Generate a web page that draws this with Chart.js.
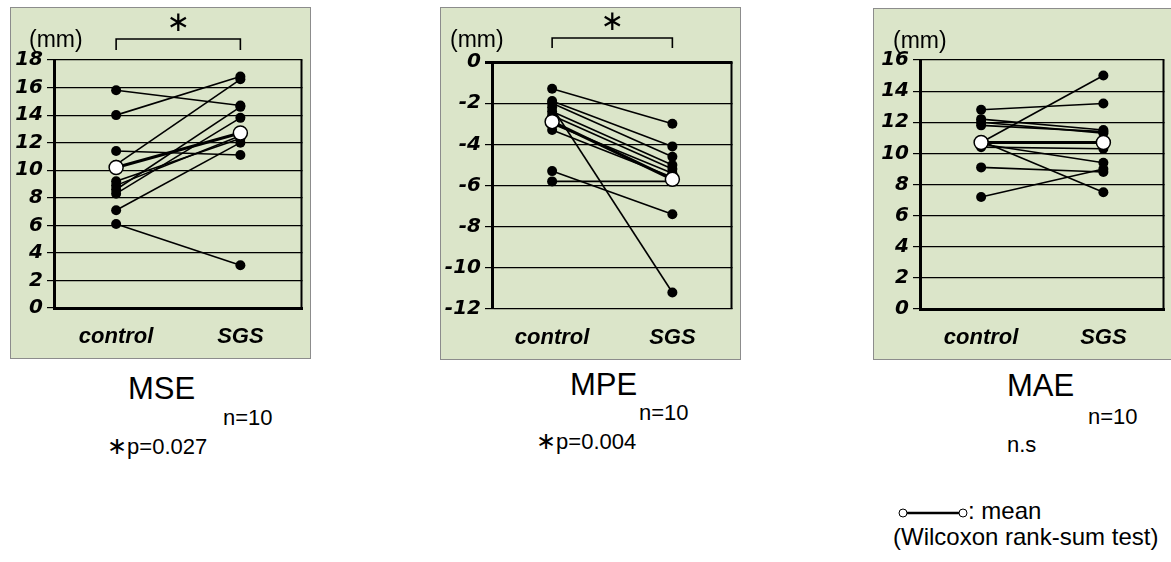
<!DOCTYPE html>
<html>
<head>
<meta charset="UTF-8">
<title>MSE / MPE / MAE</title>
<script src="https://cdn.jsdelivr.net/npm/chart.js"></script>
<style>
  body { margin: 0; background: #fff; width: 1171px; height: 562px; position: relative; overflow: hidden; font-family: "Liberation Sans", Arial, sans-serif; color: #000; }
  canvas { position: absolute; }
  .t { position: absolute; white-space: nowrap; line-height: 1; }
  .star { font-family: "DejaVu Sans"; font-size: 24px; }
</style>
</head>
<body>
<canvas id="mse" width="301" height="352" style="left:10px;top:7px"></canvas>
<canvas id="mpe" width="301" height="353" style="left:440px;top:7px"></canvas>
<canvas id="mae" width="300" height="352" style="left:873px;top:8px"></canvas>

<div class="t" style="left:128px;top:373px;font-size:31px">MSE</div>
<div class="t" style="left:223px;top:407px;font-size:22px">n=10</div>
<div class="t" style="left:107px;top:434px;font-size:22px"><span class="star">∗</span>p=0.027</div>

<div class="t" style="left:570px;top:369px;font-size:31px">MPE</div>
<div class="t" style="left:639px;top:402px;font-size:22px">n=10</div>
<div class="t" style="left:536px;top:429px;font-size:22px"><span class="star">∗</span>p=0.004</div>

<div class="t" style="left:1007px;top:370px;font-size:31px">MAE</div>
<div class="t" style="left:1088px;top:406px;font-size:22px">n=10</div>
<div class="t" style="left:1007px;top:434px;font-size:22px">n.s</div>

<svg style="position:absolute;left:895px;top:503px" width="80" height="20">
  <line x1="12" y1="10" x2="64" y2="10" stroke="#000" stroke-width="2.5"/>
  <circle cx="8" cy="10" r="4" fill="#fff" stroke="#000" stroke-width="1"/>
  <circle cx="68" cy="10" r="4" fill="#fff" stroke="#000" stroke-width="1"/>
</svg>
<div class="t" style="left:968px;top:499px;font-size:24px">: mean</div>
<div class="t" style="left:893px;top:525px;font-size:24px">(Wilcoxon rank-sum test)</div>

<script>
// data (mm)
const groups = ['control', 'SGS'];

const mseControl = [15.8, 14.0, 11.4, 10.4, 9.2, 8.9, 8.6, 8.3, 7.1, 6.1];
const mseSGS     = [14.7, 16.8, 11.1, 16.6, 12.3, 12.5, 14.6, 13.8, 12.0, 3.1];
const mseMean    = [10.2, 12.7];
const mseAxis    = [0, 18];

const mpeControl = [-1.3, -1.9, -2.0, -2.2, -2.4, -2.6, -3.0, -3.3, -5.3, -5.8];
const mpeSGS     = [-3.0, -4.1, -4.6, -11.2, -5.0, -5.2, -5.4, -5.6, -7.4, -5.8];
const mpeMean    = [-2.9, -5.7];
const mpeAxis    = [-12, 0];

const maeControl = [12.8, 12.2, 12.0, 11.8, 10.7, 10.8, 10.6, 10.4, 9.1, 7.2];
const maeSGS     = [13.2, 11.5, 11.3, 11.4, 15.0, 7.5, 9.4, 10.3, 8.8, 9.0];
const maeMean    = [10.7, 10.7];
const maeAxis    = [0, 16];

// background, frame, (mm), bracket and star
const deco = {
  id: 'deco',
  beforeDraw(chart, args, o) {
    const ctx = chart.ctx;
    ctx.save();
    ctx.fillStyle = '#dbe5c9';
    ctx.fillRect(0, 0, chart.width, chart.height);
    ctx.restore();
  },
  afterDraw(chart, args, o) {
    const ctx = chart.ctx, a = chart.chartArea, x = chart.scales.x;
    ctx.save();
    ctx.strokeStyle = '#000';
    ctx.lineWidth = 2;
    ctx.beginPath();
    ctx.moveTo(a.right - 1, a.top);
    ctx.lineTo(a.right - 1, a.bottom);
    ctx.stroke();
    ctx.strokeStyle = '#8c8c8c';
    ctx.lineWidth = 1;
    ctx.strokeRect(0.5, 0.5, chart.width - 1, chart.height - 1);

    ctx.fillStyle = '#000';
    ctx.font = '23px "Liberation Sans"';
    ctx.textBaseline = 'middle';
    ctx.fillText('(mm)', o.mmX, o.mmY);

    if (o.bracket) {
      const x0 = x.getPixelForValue(0), x1 = x.getPixelForValue(1);
      ctx.lineWidth = 1.6;
      ctx.strokeStyle = '#000';
      ctx.beginPath();
      ctx.moveTo(x0, o.bracket[1]);
      ctx.lineTo(x0, o.bracket[0]);
      ctx.lineTo(x1, o.bracket[0]);
      ctx.lineTo(x1, o.bracket[1]);
      ctx.stroke();
      ctx.font = '28px "DejaVu Sans"';
      ctx.textAlign = 'center';
      ctx.fillText('∗', (x0 + x1) / 2, o.starY);
    }
    ctx.restore();
  }
};

function panel(id, control, sgs, mean, axis, cfg) {
  const datasets = [{
    data: mean, borderColor: '#000', borderWidth: 3,
    pointRadius: 7, pointBackgroundColor: '#fff', pointBorderColor: '#000', pointBorderWidth: 1.5,
    order: 0
  }];
  control.forEach((c, i) => {
    datasets.push({
      data: [c, sgs[i]], borderColor: '#000', borderWidth: 1.6,
      pointRadius: 5, pointBackgroundColor: '#000', pointBorderWidth: 0,
      order: 1
    });
  });
  new Chart(document.getElementById(id), {
    type: 'line',
    data: { labels: groups, datasets: datasets },
    options: {
      responsive: false,
      animation: false,
      devicePixelRatio: 1,
      layout: { padding: { top: cfg.top, right: cfg.right, left: 0, bottom: 0 } },
      plugins: {
        legend: { display: false },
        tooltip: { enabled: false },
        deco: cfg.deco
      },
      scales: {
        x: {
          offset: true,
          grid: { display: false, drawTicks: false },
          border: { display: cfg.bottomBorder, width: 3, color: '#000' },
          ticks: { color: '#000', padding: 16, font: { family: 'Liberation Sans', size: 22, weight: 'bold', style: 'italic' } },
          afterFit(s) { s.height = cfg.xh; }
        },
        y: {
          min: axis[0], max: axis[1],
          ticks: { stepSize: 2, color: '#000', padding: 4, font: { family: 'DejaVu Sans', size: 20, weight: 'bold', style: 'italic' } },
          grid: {
            color: '#000', tickLength: 7,
            lineWidth: c => (cfg.thickZero && c.tick && c.tick.value === 0) ? 3 : 1.2
          },
          border: { width: 3, color: '#000' },
          afterFit(s) { s.width = cfg.yw; }
        }
      }
    },
    plugins: [deco]
  });
}

panel('mse', mseControl, mseSGS, mseMean, mseAxis,
  { top: 53, right: 2, xh: 51, yw: 44, bottomBorder: true, thickZero: false,
    deco: { mmX: 19, mmY: 34, bracket: [32, 43], starY: 17 } });
panel('mpe', mpeControl, mpeSGS, mpeMean, mpeAxis,
  { top: 55, right: 1, xh: 51, yw: 52, bottomBorder: false, thickZero: true,
    deco: { mmX: 10, mmY: 34, bracket: [31, 41], starY: 16 } });
panel('mae', maeControl, maeSGS, maeMean, maeAxis,
  { top: 52, right: 1, xh: 51, yw: 47, bottomBorder: true, thickZero: false,
    deco: { mmX: 20, mmY: 34, bracket: null } });
</script>
</body>
</html>
